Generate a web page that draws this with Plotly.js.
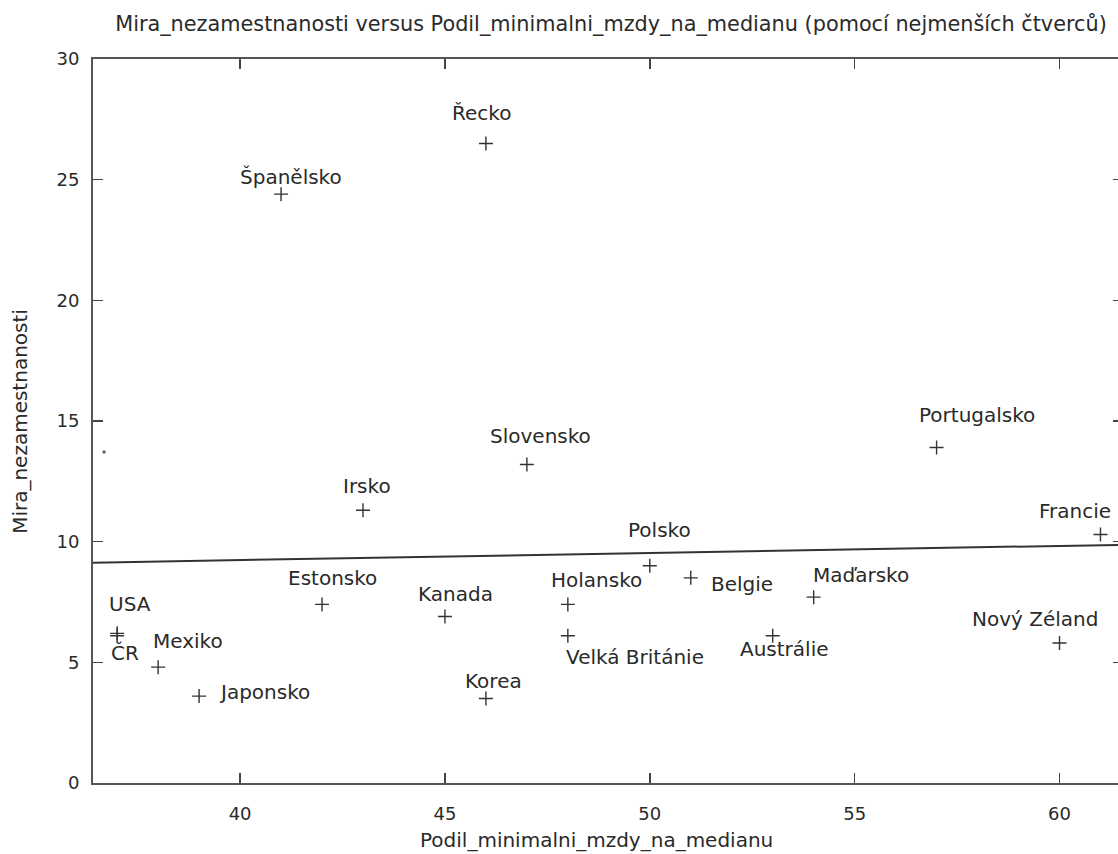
<!DOCTYPE html>
<html>
<head>
<meta charset="utf-8">
<script src="https://cdn.plot.ly/plotly-3.0.1.min.js"></script>
<style>
  html, body { margin: 0; padding: 0; overflow: hidden; background: #fff; }
  #chart { width: 1140px; height: 854px; }
</style>
</head>
<body>
<div id="chart"></div>
<script>
// ---- data ----
const countries = ["USA", "ČR", "Mexiko", "Japonsko", "Španělsko", "Estonsko", "Irsko", "Kanada",
  "Řecko", "Korea", "Slovensko", "Holansko", "Velká Británie", "Polsko", "Belgie", "Austrálie",
  "Maďarsko", "Portugalsko", "Nový Zéland", "Francie"];
const minWageShare = [37, 37, 38, 39, 41, 42, 43, 45, 46, 46, 47, 48, 48, 50, 51, 53, 54, 57, 60, 61];
const unemployment = [6.2, 6.1, 4.8, 3.6, 24.4, 7.4, 11.3, 6.9, 26.5, 3.5, 13.2, 7.4, 6.1, 9.0, 8.5, 6.1, 7.7, 13.9, 5.8, 10.3];
// least-squares line, end values
const fitX = [36.41, 61.55];
const fitY = [9.13, 9.87];
// stray dot visible near the left axis
const strayX = [36.68];
const strayY = [13.72];
const xTicks = [40, 45, 50, 55, 60];
const yTicks = [0, 5, 10, 15, 20, 25, 30];

// label offsets in pixels (label centre relative to its point), layout only
const labelShift = {
  "USA": [13, -29], "ČR": [8, 17], "Mexiko": [30, -26], "Japonsko": [65, -4],
  "Španělsko": [10, -17], "Estonsko": [10, -26], "Irsko": [4, -24], "Kanada": [11, -22],
  "Řecko": [-4, -30], "Korea": [8, -18], "Slovensko": [14, -28], "Holansko": [29, -24],
  "Velká Británie": [67, 21], "Polsko": [10, -36], "Belgie": [51, 6], "Austrálie": [12, 13],
  "Maďarsko": [47, -22], "Portugalsko": [40, -33], "Nový Zéland": [-25, -24], "Francie": [-25, -23]
};

const FONT = "DejaVu Sans, Verdana, sans-serif";
const TXT = "#2a2a2a";

const traces = [
  {
    x: fitX, y: fitY, type: "scatter", mode: "lines",
    line: { color: "#333", width: 2 }, hoverinfo: "skip"
  },
  {
    x: minWageShare, y: unemployment, text: countries, type: "scatter", mode: "markers",
    marker: { symbol: "cross-thin-open", size: 10, color: "#333", line: { color: "#333", width: 1.4 } },
    hoverinfo: "text+x+y"
  },
  {
    x: strayX, y: strayY, type: "scatter", mode: "markers",
    marker: { symbol: "circle", size: 3.5, color: "#666" }, hoverinfo: "skip"
  }
];

const annotations = countries.map((c, i) => ({
  x: minWageShare[i], y: unemployment[i], xref: "x", yref: "y",
  text: c, showarrow: false, xanchor: "center", yanchor: "middle",
  xshift: labelShift[c][0], yshift: -labelShift[c][1],
  font: { family: FONT, size: 20, color: TXT }
}));

annotations.push({
  xref: "paper", yref: "paper", x: 0.489, y: -0.079, xanchor: "center", yanchor: "middle",
  text: "Podil_minimalni_mzdy_na_medianu", showarrow: false,
  font: { family: FONT, size: 20, color: TXT }
});
annotations.push({
  xref: "paper", yref: "paper", x: -0.071, y: 0.5, xanchor: "center", yanchor: "middle",
  text: "Mira_nezamestnanosti", showarrow: false, textangle: -90,
  font: { family: FONT, size: 20, color: TXT }
});

const axisCommon = {
  showgrid: false, zeroline: false, showline: true, linecolor: "#555", linewidth: 2,
  mirror: "ticks", ticks: "inside", ticklen: 10, tickwidth: 1.5, tickcolor: "#444",
  tickfont: { family: FONT, size: 18, color: TXT }
};

const layout = {
  width: 1140, height: 854,
  margin: { l: 93, r: 17, t: 59, b: 71 },
  paper_bgcolor: "#fff", plot_bgcolor: "#fff",
  showlegend: false,
  title: {
    text: "Mira_nezamestnanosti versus Podil_minimalni_mzdy_na_medianu (pomocí nejmenších čtverců)",
    font: { family: FONT, size: 20.8, color: TXT },
    x: 611 / 1140, xref: "container", xanchor: "center",
    y: 1 - 24 / 854, yref: "container", yanchor: "middle"
  },
  xaxis: Object.assign({}, axisCommon, {
    range: [fitX[0], fitX[1]], tickvals: xTicks, ticktext: xTicks.map(String),
    ticklabelstandoff: 13
  }),
  yaxis: Object.assign({}, axisCommon, {
    range: [0, 30], tickvals: yTicks, ticktext: yTicks.map(String),
    ticklabelstandoff: 8
  }),
  annotations: annotations
};

Plotly.newPlot("chart", traces, layout, { displayModeBar: false, staticPlot: true });
</script>
</body>
</html>
